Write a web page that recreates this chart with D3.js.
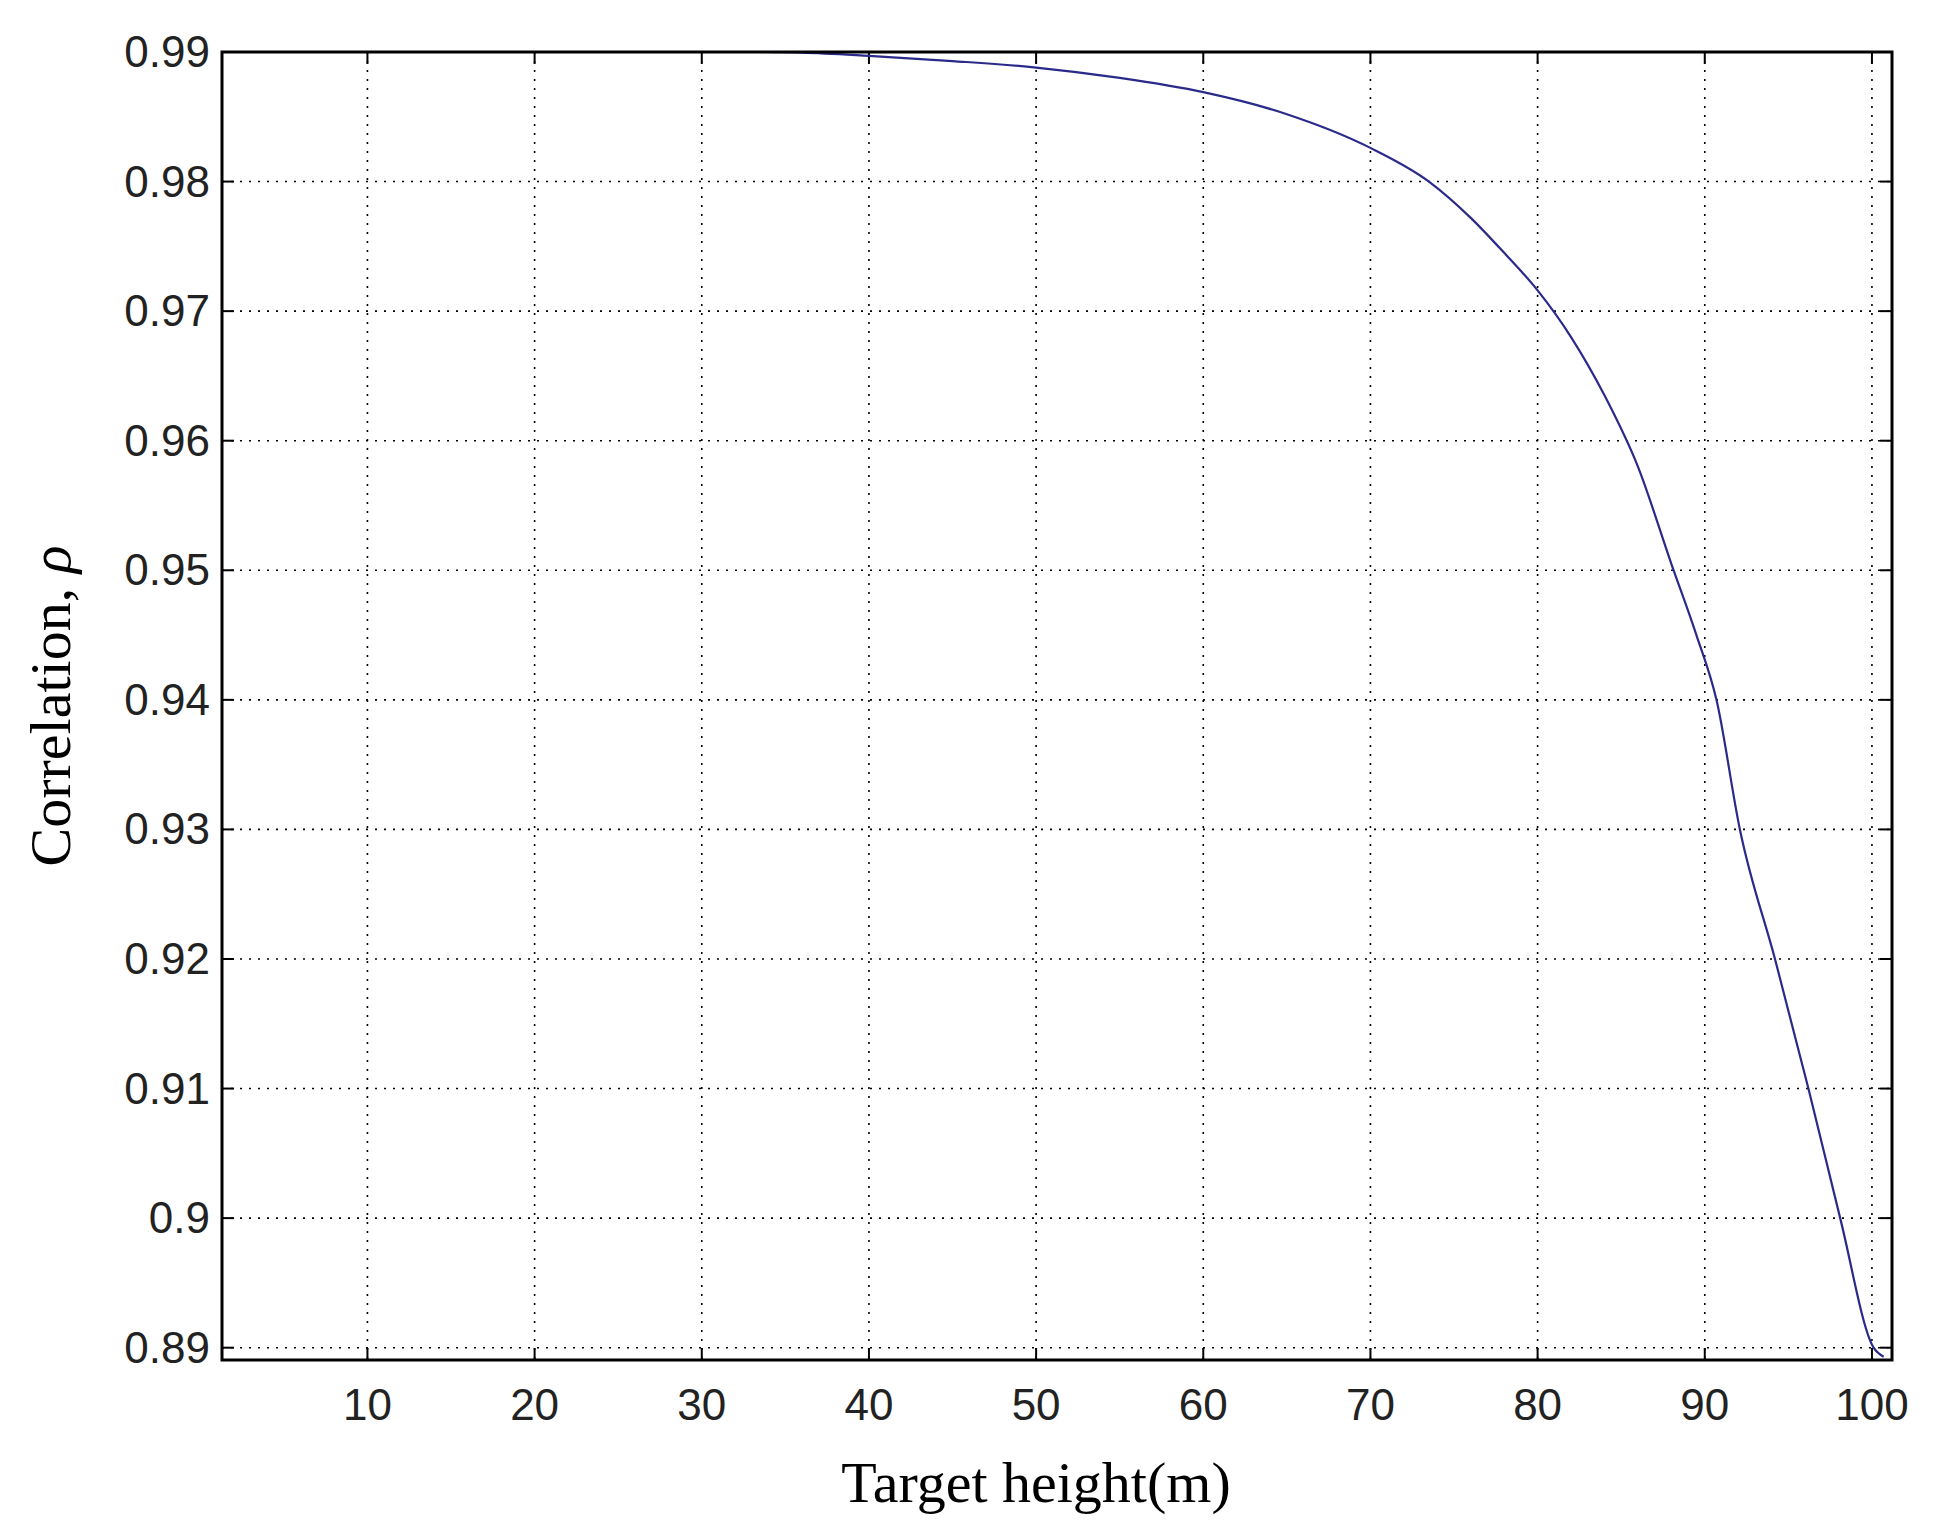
<!DOCTYPE html>
<html><head><meta charset="utf-8">
<script src="https://cdn.jsdelivr.net/npm/d3@7"></script>
<style>body{margin:0;background:#fff}</style></head>
<body><svg id="c" width="1933" height="1532"></svg>
<script>
const heights = [33.5, 36, 40, 45, 50, 55, 60, 65, 70, 73.5, 76, 78, 80, 82, 84, 86, 88, 89.5, 90.7, 92.1, 94.2, 96.2, 98.1, 100.1, 100.7];
const correlation = [0.99, 0.98995, 0.9897, 0.9893, 0.9888, 0.9880, 0.9869, 0.9852, 0.9826, 0.98, 0.9772, 0.9745, 0.9716, 0.9680, 0.9635, 0.9580, 0.9505, 0.9450, 0.94, 0.93, 0.92, 0.91, 0.90, 0.89, 0.8893];
const xTicks = [10,20,30,40,50,60,70,80,90,100];
const yTicks = [0.89,0.90,0.91,0.92,0.93,0.94,0.95,0.96,0.97,0.98,0.99];
const yTickLabels = ["0.89","0.9","0.91","0.92","0.93","0.94","0.95","0.96","0.97","0.98","0.99"];

const L=222,T=52,R=1892,B=1360;
const svg=d3.select("#c");
const x=d3.scaleLinear().domain([1.3,101.2]).range([L,R]);
const y=d3.scaleLinear().domain([0.88905,0.99]).range([B,T]);
const g=svg.append("g");
// grid
g.selectAll(".gx").data(xTicks).join("line").attr("x1",d=>x(d)).attr("x2",d=>x(d)).attr("y1",T).attr("y2",B)
 .attr("stroke","#000").attr("stroke-width",1.6).attr("stroke-dasharray","2,7");
g.selectAll(".gy").data(yTicks).join("line").attr("y1",d=>y(d)).attr("y2",d=>y(d)).attr("x1",L).attr("x2",R)
 .attr("stroke","#000").attr("stroke-width",1.6).attr("stroke-dasharray","2,7");
// ticks inward
const tl=12;
xTicks.forEach(d=>{g.append("line").attr("x1",x(d)).attr("x2",x(d)).attr("y1",B).attr("y2",B-tl).attr("stroke","#000").attr("stroke-width",2);
 g.append("line").attr("x1",x(d)).attr("x2",x(d)).attr("y1",T).attr("y2",T+tl).attr("stroke","#000").attr("stroke-width",2);});
yTicks.forEach(d=>{g.append("line").attr("y1",y(d)).attr("y2",y(d)).attr("x1",L).attr("x2",L+tl).attr("stroke","#000").attr("stroke-width",2);
 g.append("line").attr("y1",y(d)).attr("y2",y(d)).attr("x1",R).attr("x2",R-tl).attr("stroke","#000").attr("stroke-width",2);});
// line
svg.append("path").datum(heights.map((h,i)=>[h,correlation[i]]))
 .attr("d",d3.line().x(d=>x(d[0])).y(d=>y(d[1])).curve(d3.curveMonotoneX))
 .attr("fill","none").attr("stroke","#2a2a8a").attr("stroke-width",2.2);
svg.append("rect").attr("x",L).attr("y",T).attr("width",R-L).attr("height",B-T).attr("fill","none").attr("stroke","#000").attr("stroke-width",3);
// labels
svg.selectAll(".xl").data(xTicks).join("text").attr("x",d=>x(d)).attr("y",B+60).attr("text-anchor","middle")
 .attr("font-family","Liberation Sans, Arial").attr("font-size",44).attr("fill","#222").text(d=>d);
svg.selectAll(".yl").data(yTicks).join("text").attr("x",L-12).attr("y",d=>y(d)+15).attr("text-anchor","end")
 .attr("font-family","Liberation Sans, Arial").attr("font-size",44).attr("fill","#222").text((d,i)=>yTickLabels[i]);
svg.append("text").attr("x",1036).attr("y",1502).attr("text-anchor","middle").attr("font-family","Liberation Serif, Times New Roman")
 .attr("font-size",58).text("Target height(m)");
const yl=svg.append("text").attr("transform","translate(70,706) rotate(-90)").attr("text-anchor","middle")
 .attr("font-family","Liberation Serif, Times New Roman").attr("font-size",58);
yl.append("tspan").text("Correlation, ");
yl.append("tspan").attr("font-style","italic").text("ρ");
</script></body></html>
